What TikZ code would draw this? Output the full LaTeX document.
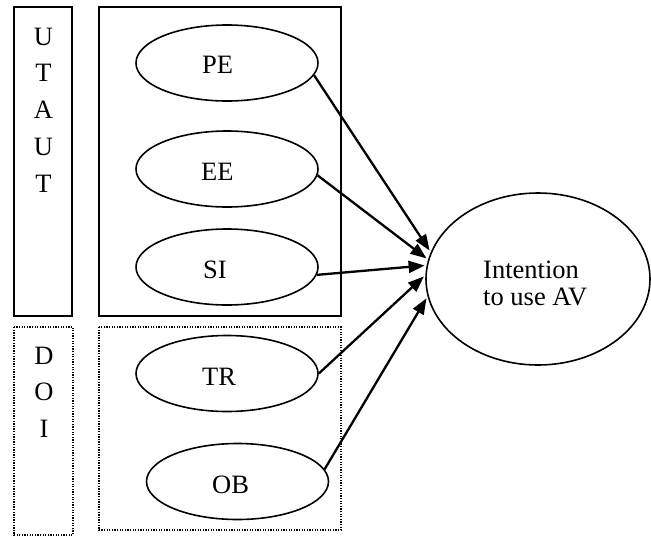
\documentclass[tikz,border=0pt]{standalone}
\usepackage{fontspec}
\setmainfont{Liberation Serif}
\usetikzlibrary{shapes.geometric,arrows.meta}

\tikzset{
  frame/.style={draw, line width=1.6pt},
  dotframe/.style={draw, line width=1.4pt, dash pattern=on 1.3pt off 1.3pt},
  oval/.style={draw, ellipse, line width=1.6pt, inner sep=0pt,
    minimum width=182pt, minimum height=76pt},
  bigoval/.style={draw, ellipse, line width=1.6pt, inner sep=0pt,
    minimum width=224pt, minimum height=172pt},
  lbl/.style={inner sep=0pt, anchor=base west,
    font=\fontsize{26.5}{30}\selectfont},
  letter/.style={inner sep=0pt, anchor=base,
    font=\fontsize{26.5}{30}\selectfont},
  link/.style={line width=2.3pt, -{Triangle[length=16pt,width=12pt]},
    shorten >=2pt}
}

\begin{document}
\begin{tikzpicture}[x=1pt, y=-1pt]
  \useasboundingbox (0,0) rectangle (651,536);

  % group frames
  \draw[frame] (14,7) rectangle (72,316);
  \draw[frame] (99,7) rectangle (341,316);
  \draw[dotframe] (14,327) rectangle (73,535);
  \draw[dotframe] (99,327) rectangle (341,530);

  % vertical group names
  \foreach \ch [count=\i] in {U,T,A,U,T}
    \node[letter] (utaut\i) at (43.5, 45+36.75*\i-36.75) {\ch};
  \foreach \ch [count=\i] in {D,O,I}
    \node[letter] (doi\i) at (44, 364+36.5*\i-36.5) {\ch};

  % constructs
  \node[oval] (pe) at (227,63) {};
  \node[oval] (ee) at (227,169) {};
  \node[oval] (si) at (227,267) {};
  \node[oval] (tr) at (227,373.5) {};
  \node[oval] (ob) at (237.5,481.5) {};
  \node[bigoval] (iu) at (538,279) {};

  \node[lbl] (pelbl) at (202,73) {PE};
  \node[lbl] (eelbl) at (201,180) {EE};
  \node[lbl] (silbl) at (203,278) {SI};
  \node[lbl] (trlbl) at (202,385) {TR};
  \node[lbl] (oblbl) at (212,493) {OB};
  \node[lbl] (iulbl1) at (483,278) {Intention};
  \node[lbl] (iulbl2) at (483,305) {to use AV};

  % paths into the intention construct
  \draw[link] (pe.-8)   -- (iu.166.6);
  \draw[link] (ee.-4)   -- (iu.170.6);
  \draw[link] (si.-5)   -- (iu.173.9);
  \draw[link] (tr.east) -- (iu.178);
  \draw[link] (ob.8)    -- (iu.189.2);
\end{tikzpicture}
\end{document}
